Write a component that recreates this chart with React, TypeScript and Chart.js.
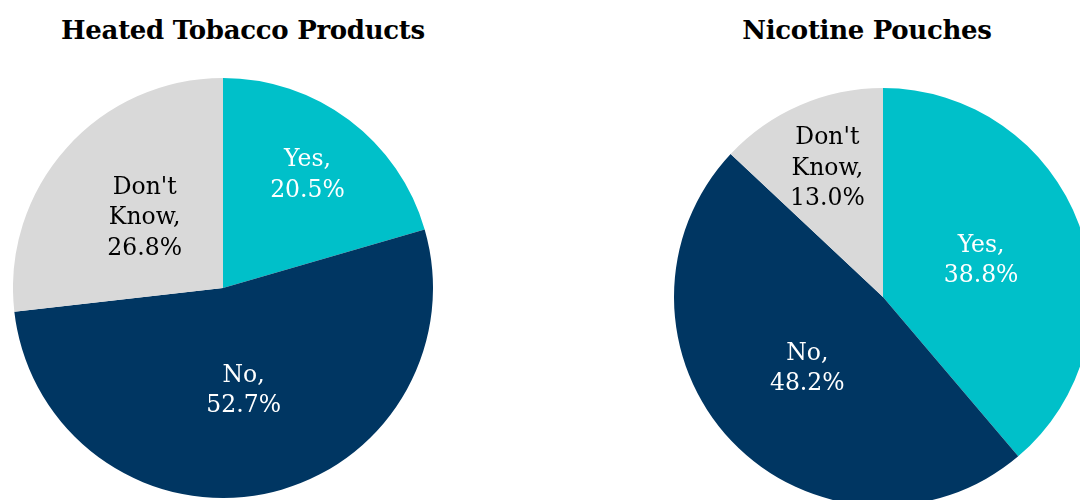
import React, { useEffect, useRef } from "react";
import { Chart, registerables } from "chart.js";

Chart.register(...registerables);

const categories = ["Yes", "No", "Don't Know"];
const heatedTobaccoValues = [20.5, 52.7, 26.8];
const nicotinePouchValues = [38.8, 48.2, 13.0];
const chartTitles = ["Heated Tobacco Products", "Nicotine Pouches"];

const sliceColors = ["#00C0C9", "#003662", "#D9D9D9"];
const labelColors = ["#FFFFFF", "#FFFFFF", "#000000"];
const FONT = "'DejaVu Serif', serif";

const labelPlugin = {
  id: "sliceLabels",
  afterDatasetsDraw(chart: any) {
    const ctx = chart.ctx;
    const ds = chart.data.datasets[0];
    const meta = chart.getDatasetMeta(0);
    const total = ds.data.reduce((a: number, b: number) => a + b, 0);
    ctx.save();
    ctx.font = `23.5px ${FONT}`;
    ctx.textAlign = "center";
    ctx.textBaseline = "middle";
    meta.data.forEach((arc: any, i: number) => {
      const { x, y, startAngle, endAngle, outerRadius } = arc.getProps(
        ["x", "y", "startAngle", "endAngle", "outerRadius"],
        true
      );
      const mid = (startAngle + endAngle) / 2;
      const share = ds.data[i] / total;
      const frac = share < 0.25 ? 0.67 : 0.5;
      const cx = x + Math.cos(mid) * outerRadius * frac;
      const cy = y + Math.sin(mid) * outerRadius * frac;
      const words = String(chart.data.labels[i]).split(" ");
      const lines = [
        ...words.slice(0, -1),
        words[words.length - 1] + ",",
        ds.data[i].toFixed(1) + "%",
      ];
      ctx.fillStyle = labelColors[i];
      const lh = 30.5;
      lines.forEach((ln: string, j: number) => {
        ctx.fillText(ln, cx, cy + (j - (lines.length - 1) / 2) * lh);
      });
    });
    ctx.restore();
  },
};

function PieChart({ values, left, top, size }: { values: number[]; left: number; top: number; size: number }) {
  const ref = useRef<HTMLCanvasElement | null>(null);
  useEffect(() => {
    if (!ref.current) return;
    const chart = new Chart(ref.current, {
      type: "pie",
      data: {
        labels: categories,
        datasets: [
          {
            data: values,
            backgroundColor: sliceColors,
            borderWidth: 0,
          },
        ],
      },
      options: {
        responsive: false,
        animation: false,
        layout: { padding: 0 },
        plugins: {
          legend: { display: false },
          tooltip: { enabled: false },
          title: { display: false },
        },
      },
      plugins: [labelPlugin],
    });
    return () => chart.destroy();
  }, [values]);
  return (
    <canvas
      ref={ref}
      width={size}
      height={size}
      style={{ position: "absolute", left, top, width: size, height: size }}
    />
  );
}

function Title({ text, center }: { text: string; center: number }) {
  return (
    <div
      style={{
        position: "absolute",
        left: center - 250,
        width: 500,
        top: 17,
        textAlign: "center",
        fontFamily: FONT,
        fontWeight: "bold",
        fontSize: 26,
        lineHeight: "26px",
        letterSpacing: "-0.3px",
        color: "#000",
        whiteSpace: "nowrap",
      }}
    >
      {text}
    </div>
  );
}

export default function App() {
  return (
    <div
      style={{
        position: "fixed",
        left: 0,
        top: 0,
        width: 1080,
        height: 500,
        overflow: "hidden",
        background: "#fff",
      }}
    >
      <Title text={chartTitles[0]} center={243} />
      <Title text={chartTitles[1]} center={867} />
      <PieChart values={heatedTobaccoValues} left={13} top={78} size={420} />
      <PieChart values={nicotinePouchValues} left={674} top={88} size={418} />
    </div>
  );
}
